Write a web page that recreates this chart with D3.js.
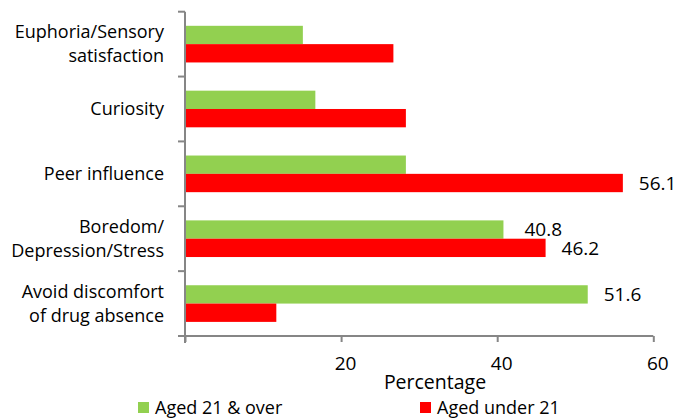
<!DOCTYPE html>
<html>
<head>
<meta charset="utf-8">
<script src="https://cdn.jsdelivr.net/npm/d3@7"></script>
<style>
  body { margin: 0; background: #fff; }
  text { font-family: "Open Sans", "Noto Sans", sans-serif; fill: #000; }
</style>
</head>
<body>
<div id="chart"></div>
<script>
// reasons, top to bottom
var categories = [
	["Euphoria/Sensory", "satisfaction"],
	["Curiosity"],
	["Peer influence"],
	["Boredom/", "Depression/Stress"],
	["Avoid discomfort", "of drug absence"]
];
var seriesNames = ["Aged 21 & over", "Aged under 21"];
var over21 = [15.1, 16.7, 28.3, 40.8, 51.6];
var under21 = [26.7, 28.3, 56.1, 46.2, 11.7];
// only some bars carry a value label
var labelled = [[3, 0], [2, 1], [3, 1], [4, 0]];   // [category index, series index]
var xTicks = [0, 20, 40, 60];
var xTickLabels = ["", "20", "40", "60"];
var axisTitle = "Percentage";

var colors = ["#92D050", "#FF0000"];
var axisColor = "#868686";

var width = 675, height = 418;

var svg = d3.select("#chart").append("svg")
	.attr("width", width)
	.attr("height", height);

var x = d3.scaleLinear().domain([0, 60]).range([185, 653.3]);
var y = d3.scaleBand().domain(d3.range(categories.length)).range([11.7, 336]);
var y1 = d3.scaleBand().domain([0, 1]).range([0, y.bandwidth()]).paddingOuter(0.77);

var values = [over21, under21];

// bars
values.forEach(function(vals, s) {
	svg.append("g")
		.selectAll("rect")
		.data(vals)
		.join("rect")
		.attr("x", x(0))
		.attr("y", (d, i) => y(i) + y1(s))
		.attr("width", d => x(d) - x(0))
		.attr("height", y1.bandwidth())
		.attr("fill", colors[s]);
});

// value labels
svg.append("g")
	.selectAll("text")
	.data(labelled)
	.join("text")
	.attr("x", d => x(values[d[1]][d[0]]) + (d[0] == 3 && d[1] == 0 ? 21 : 16))
	.attr("y", d => y(d[0]) + y1(d[1]) + y1.bandwidth() / 2)
	.attr("dy", "0.35em")
	.attr("font-size", 19)
	.text(d => values[d[1]][d[0]].toFixed(1));

// x axis
var xAxis = svg.append("g")
	.attr("transform", "translate(0," + 336 + ")")
	.call(d3.axisBottom(x).tickValues(xTicks).tickSize(6).tickFormat((d, i) => xTickLabels[i]));
xAxis.select(".domain").attr("stroke", axisColor).attr("stroke-width", 2).attr("d", "M" + x(0) + ",0H" + x(60));
xAxis.selectAll(".tick line").attr("stroke", axisColor).attr("stroke-width", 2);
xAxis.selectAll(".tick text")
	.attr("font-size", 19)
	.attr("font-family", null)
	.attr("dx", 4)
	.attr("y", 27)
	.attr("dy", "0.35em");

// y axis with ticks between categories
var yAxisG = svg.append("g");
yAxisG.append("line")
	.attr("x1", x(0)).attr("x2", x(0))
	.attr("y1", y.range()[0]).attr("y2", y.range()[1] + 7)
	.attr("stroke", axisColor).attr("stroke-width", 2);
yAxisG.selectAll("line.tick")
	.data(d3.range(categories.length + 1))
	.join("line")
	.attr("class", "tick")
	.attr("x1", x(0) - 7).attr("x2", x(0))
	.attr("y1", i => y.range()[0] + i * y.step())
	.attr("y2", i => y.range()[0] + i * y.step())
	.attr("stroke", axisColor).attr("stroke-width", 2);

// category labels
var catLabels = svg.append("g")
	.selectAll("text")
	.data(categories)
	.join("text")
	.attr("text-anchor", "end")
	.attr("font-size", 18)
	.attr("x", 164)
	.attr("y", (d, i) => y(i) + y.bandwidth() / 2 - (d.length - 1) * 12);
catLabels.selectAll("tspan")
	.data(d => d)
	.join("tspan")
	.attr("x", 164)
	.attr("dy", (d, i) => i == 0 ? "0.35em" : 24)
	.text(d => d);

// axis title
svg.append("text")
	.attr("x", 435)
	.attr("y", 382)
	.attr("dy", "0.35em")
	.attr("text-anchor", "middle")
	.attr("font-size", 19.5)
	.text(axisTitle);

// legend
var legendX = [138, 420];
var legend = svg.append("g")
	.selectAll("g")
	.data(seriesNames)
	.join("g")
	.attr("transform", (d, i) => "translate(" + legendX[i] + ",402)");
legend.append("rect")
	.attr("width", 11)
	.attr("height", 11)
	.attr("fill", (d, i) => colors[i]);
legend.append("text")
	.attr("x", 17)
	.attr("y", 6)
	.attr("dy", "0.35em")
	.attr("font-size", 18)
	.text(d => d);
</script>
</body>
</html>
